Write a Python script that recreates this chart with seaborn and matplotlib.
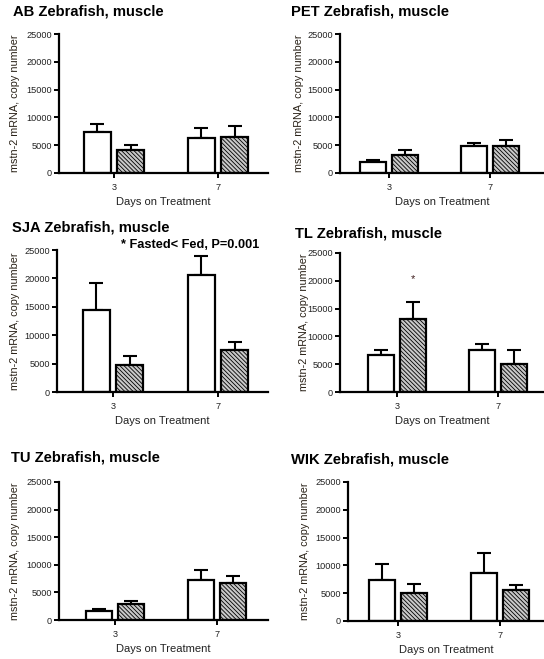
import numpy as np
import pandas as pd
import matplotlib
matplotlib.use("Agg")
import matplotlib.pyplot as plt
import seaborn as sns

# mstn-2 mRNA copy number in zebrafish muscle, fed vs fasted, by strain
strains = ["AB", "PET", "SJA", "TL", "TU", "WIK"]
days = ["3", "7"]
diets = ["Fed", "Fasted"]

fed_mean = [[7300, 6250], [1980, 4920], [14470, 20650],
            [6640, 7480], [1620, 7330], [7330, 8650]]
fed_sem = [[1570, 1900], [420, 420], [4710, 3230],
           [900, 1070], [300, 1680], [2890, 3670]]
fasted_mean = [[4140, 6530], [3300, 4920], [4820, 7470],
               [13100, 5020], [2830, 6790], [4990, 5590]]
fasted_sem = [[960, 1860], [840, 1080], [1590, 1300],
              [3110, 2460], [660, 1140], [1740, 900]]

y_ticks = [0, 5000, 10000, 15000, 20000, 25000]
sja_note = "* Fasted< Fed, P=0.001"
tl_star_y = 20300

W, H = 544, 659
sns.set_style("ticks")
plt.rcParams["font.family"] = ["Liberation Sans", "DejaVu Sans"]
plt.rcParams["hatch.linewidth"] = 0.6

fig = plt.figure(figsize=(W / 100, H / 100), dpi=100)
fig.patch.set_facecolor("white")

# panel boxes in pixels: left, top, bottom, right, x of day-3 tick, x of day-7 tick,
# title (x, y), y-label x
panels = [
    (59, 34, 173, 268, 114, 218, 13, 12, 15),
    (340, 34, 173, 544, 389, 490, 291, 12, 299),
    (57, 250, 392, 268, 113, 218, 12, 227, 15),
    (340, 253, 392, 544, 397, 498, 295, 233, 304),
    (59, 482, 620, 268, 115, 217, 11, 458, 15),
    (348, 482, 621, 544, 398, 500, 291, 460, 305),
]

for i, strain in enumerate(strains):
    left, top, bottom, right, t3, t7, tx, ty, ylx = panels[i]
    ax = fig.add_axes([left / W, 1 - bottom / H, (right - left) / W, (bottom - top) / H])

    df = pd.DataFrame({
        "day": days * 2,
        "diet": ["Fed"] * 2 + ["Fasted"] * 2,
        "mean": fed_mean[i] + fasted_mean[i],
    })
    sns.barplot(data=df, x="day", y="mean", hue="diet", order=days, hue_order=diets,
                palette={"Fed": "white", "Fasted": "#c8c8c8"}, edgecolor="black",
                linewidth=1.6, width=0.635, gap=0.18, errorbar=None, legend=False,
                saturation=1, ax=ax)

    bar_groups = [list(c) for c in ax.containers]
    sems = [fed_sem[i], fasted_sem[i]]
    for k, bars in enumerate(bar_groups):
        for j, bar in enumerate(bars):
            if k == 1:
                bar.set_hatch("\\" * 8)
            bar.set_zorder(2)
            xc = bar.get_x() + bar.get_width() / 2
            ax.errorbar(xc, bar.get_height(), yerr=[[0], [sems[k][j]]], fmt="none",
                        ecolor="black", elinewidth=1.5, capsize=4.7, capthick=1.5,
                        zorder=1)

    span = t7 - t3
    ax.set_xlim((left - t3) / span, (right - t3) / span)
    ax.set_ylim(0, 25000)
    ax.set_yticks(y_ticks)
    ax.set_yticklabels([str(v) for v in y_ticks])
    ax.set_xlabel("")
    ax.set_ylabel("")
    for side in ["top", "right"]:
        ax.spines[side].set_visible(False)
    for side in ["left", "bottom"]:
        ax.spines[side].set_linewidth(1.6)
        ax.spines[side].set_color("black")
    ax.tick_params(axis="both", length=3.5, width=1.4, color="black",
                   labelsize=6.6, labelcolor="#222222")
    ax.tick_params(axis="x", pad=3.5)
    ax.tick_params(axis="y", pad=1.5)
    ax.set_facecolor("white")

    fig.text(tx / W, 1 - ty / H, f"{strain} Zebrafish, muscle", fontsize=10.6,
             fontweight="bold", va="center", ha="left", color="black")
    fig.text(ylx / W, 1 - ((top + bottom) / 2) / H, "mstn-2 mRNA, copy number",
             rotation=90, fontsize=7.8, va="center", ha="center", color="#2a2218")
    fig.text(((left + right) / 2) / W, 1 - (bottom + 29) / H, "Days on Treatment",
             fontsize=8.0, va="center", ha="center", color="#222222")

    if strain == "SJA":
        fig.text(121 / W, 1 - 245 / H, sja_note, fontsize=9.2, fontweight="bold",
                 va="center", ha="left", color="black")
    if strain == "TL":
        star_bar = bar_groups[1][0]
        ax.text(star_bar.get_x() + star_bar.get_width() / 2, tl_star_y, "*",
                fontsize=8, ha="center", va="center", color="#402020")

fig.savefig("out.png", dpi=100, facecolor="white")
